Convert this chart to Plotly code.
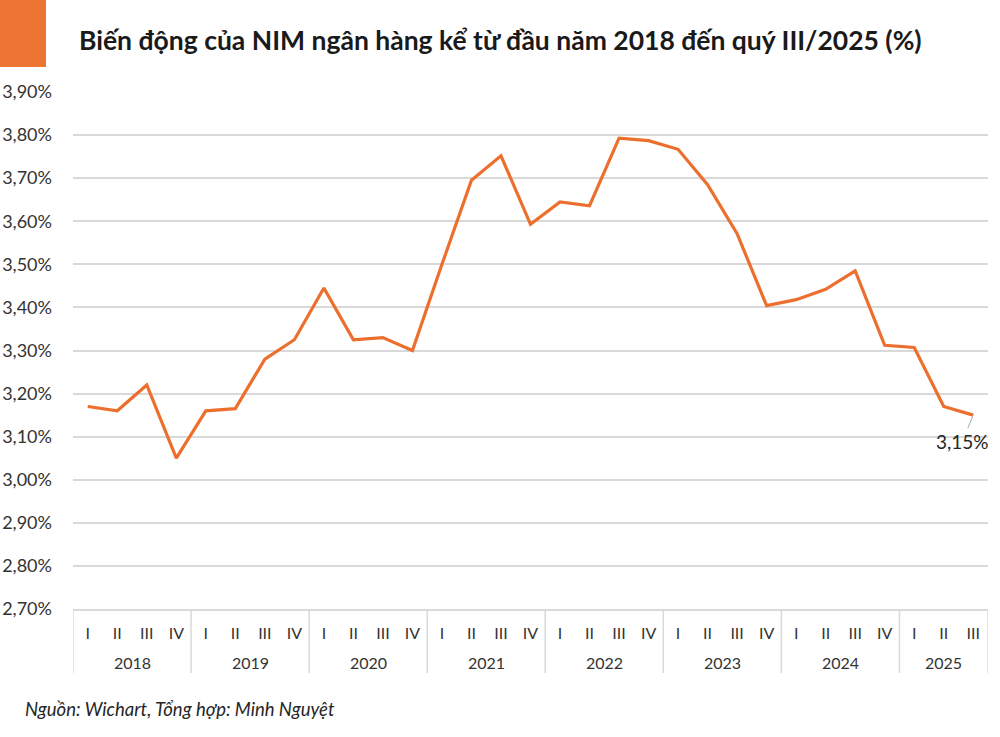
import plotly.graph_objects as go

years = ["2018"] * 4 + ["2019"] * 4 + ["2020"] * 4 + ["2021"] * 4 + ["2022"] * 4 + ["2023"] * 4 + ["2024"] * 4 + ["2025"] * 3
quarters = ["I", "II", "III", "IV"] * 7 + ["I", "II", "III"]
nim = [3.17, 3.16, 3.22, 3.05,
       3.16, 3.165, 3.28, 3.325,
       3.445, 3.325, 3.33, 3.30,
       3.50, 3.695, 3.752, 3.593,
       3.645, 3.636, 3.793, 3.787,
       3.767, 3.685, 3.571, 3.404,
       3.418, 3.442, 3.485, 3.312,
       3.307, 3.17, 3.15]
last_label = "3,15%"
title_text = "Biến động của NIM ngân hàng kể từ đầu năm 2018 đến quý III/2025 (%)"
source_text = "Nguồn: Wichart, Tổng hợp: Minh Nguyệt"

W, H = 1000, 737
ml, mr, mt, mb = 73, 12, 92, 128
pw, ph = W - ml - mr, H - mt - mb

def px_x(x):
    return (x - ml) / pw

def px_y(y):
    return (H - mb - y) / ph

ORANGE = "#EC6F2E"
GRID = "#D9D9D9"
n = len(nim)
idx = list(range(n))

# year groups (start, end index)
groups = []
for i, yv in enumerate(years):
    if not groups or groups[-1][0] != yv:
        groups.append([yv, i, i])
    else:
        groups[-1][2] = i

fig = go.Figure()
fig.add_trace(go.Scatter(
    x=idx, y=nim, mode="lines",
    line=dict(color=ORANGE, width=3.2), hoverinfo="skip", showlegend=False,
))

fig.add_annotation(
    x=idx[-1], y=nim[-1], xref="x", yref="y",
    text=last_label, showarrow=True, arrowhead=0, arrowwidth=1,
    arrowcolor="#A6A6A6", ax=-11, ay=26, standoff=2,
    font=dict(family="Lato", size=19, color="#262626"),
)

# year labels and dividers
div_bottom = -(673 - (H - mb)) / ph
for yv, s, e in groups:
    fig.add_annotation(
        x=(s + e) / 2, y=0, xref="x", yref="paper",
        yanchor="middle", yshift=-(662 - (H - mb)), showarrow=False,
        text=yv, font=dict(family="Lato", size=16, color="#333333"),
    )
    fig.add_shape(type="line", xref="x", yref="paper",
                  x0=s - 0.5, x1=s - 0.5, y0=0, y1=div_bottom,
                  line=dict(color=GRID, width=1.5))
fig.add_shape(type="line", xref="x", yref="paper",
              x0=groups[-1][2] + 0.5, x1=groups[-1][2] + 0.5, y0=0, y1=div_bottom,
              line=dict(color=GRID, width=1.5))

fig.add_shape(type="rect", xref="paper", yref="paper",
              x0=px_x(0), x1=px_x(46), y0=px_y(0), y1=px_y(67),
              fillcolor="#EE7434", line=dict(width=0), layer="above")

fig.add_annotation(
    xref="paper", yref="paper", x=px_x(77), y=px_y(40),
    xanchor="left", yanchor="middle", showarrow=False,
    text="<b>" + title_text + "</b>",
    font=dict(family="Lato", size=26.5, color="#1a1a1a"),
)

fig.add_annotation(
    xref="paper", yref="paper", x=px_x(23), y=px_y(709),
    xanchor="left", yanchor="middle", showarrow=False,
    text="<i>" + source_text + "</i>",
    font=dict(family="Lato", size=18.5, color="#262626"),
)

fig.update_layout(
    width=W, height=H,
    margin=dict(l=ml, r=mr, t=mt, b=mb, autoexpand=False),
    paper_bgcolor="white", plot_bgcolor="white",
    separators=",.",
    font=dict(family="Lato", color="#333333"),
    xaxis=dict(
        tickmode="array", tickvals=idx, ticktext=quarters,
        showgrid=False, zeroline=False,
        showline=True, linecolor=GRID, linewidth=1.5,
        tickfont=dict(family="Lato", size=16, color="#333333"),
        ticks="", ticklabelstandoff=9,
        range=[-0.5, n - 0.5],
    ),
    yaxis=dict(
        range=[2.70, 3.90], dtick=0.1, tick0=2.70,
        tickformat=".2f", ticksuffix="%",
        showgrid=True, gridcolor=GRID, gridwidth=1.5,
        zeroline=False, showline=False,
        tickfont=dict(family="Lato", size=18, color="#333333"),
        ticklabelstandoff=20,
    ),
)

fig.write_html("out.html", config={"displayModeBar": False},
               post_script="document.body.style.margin='0';")
